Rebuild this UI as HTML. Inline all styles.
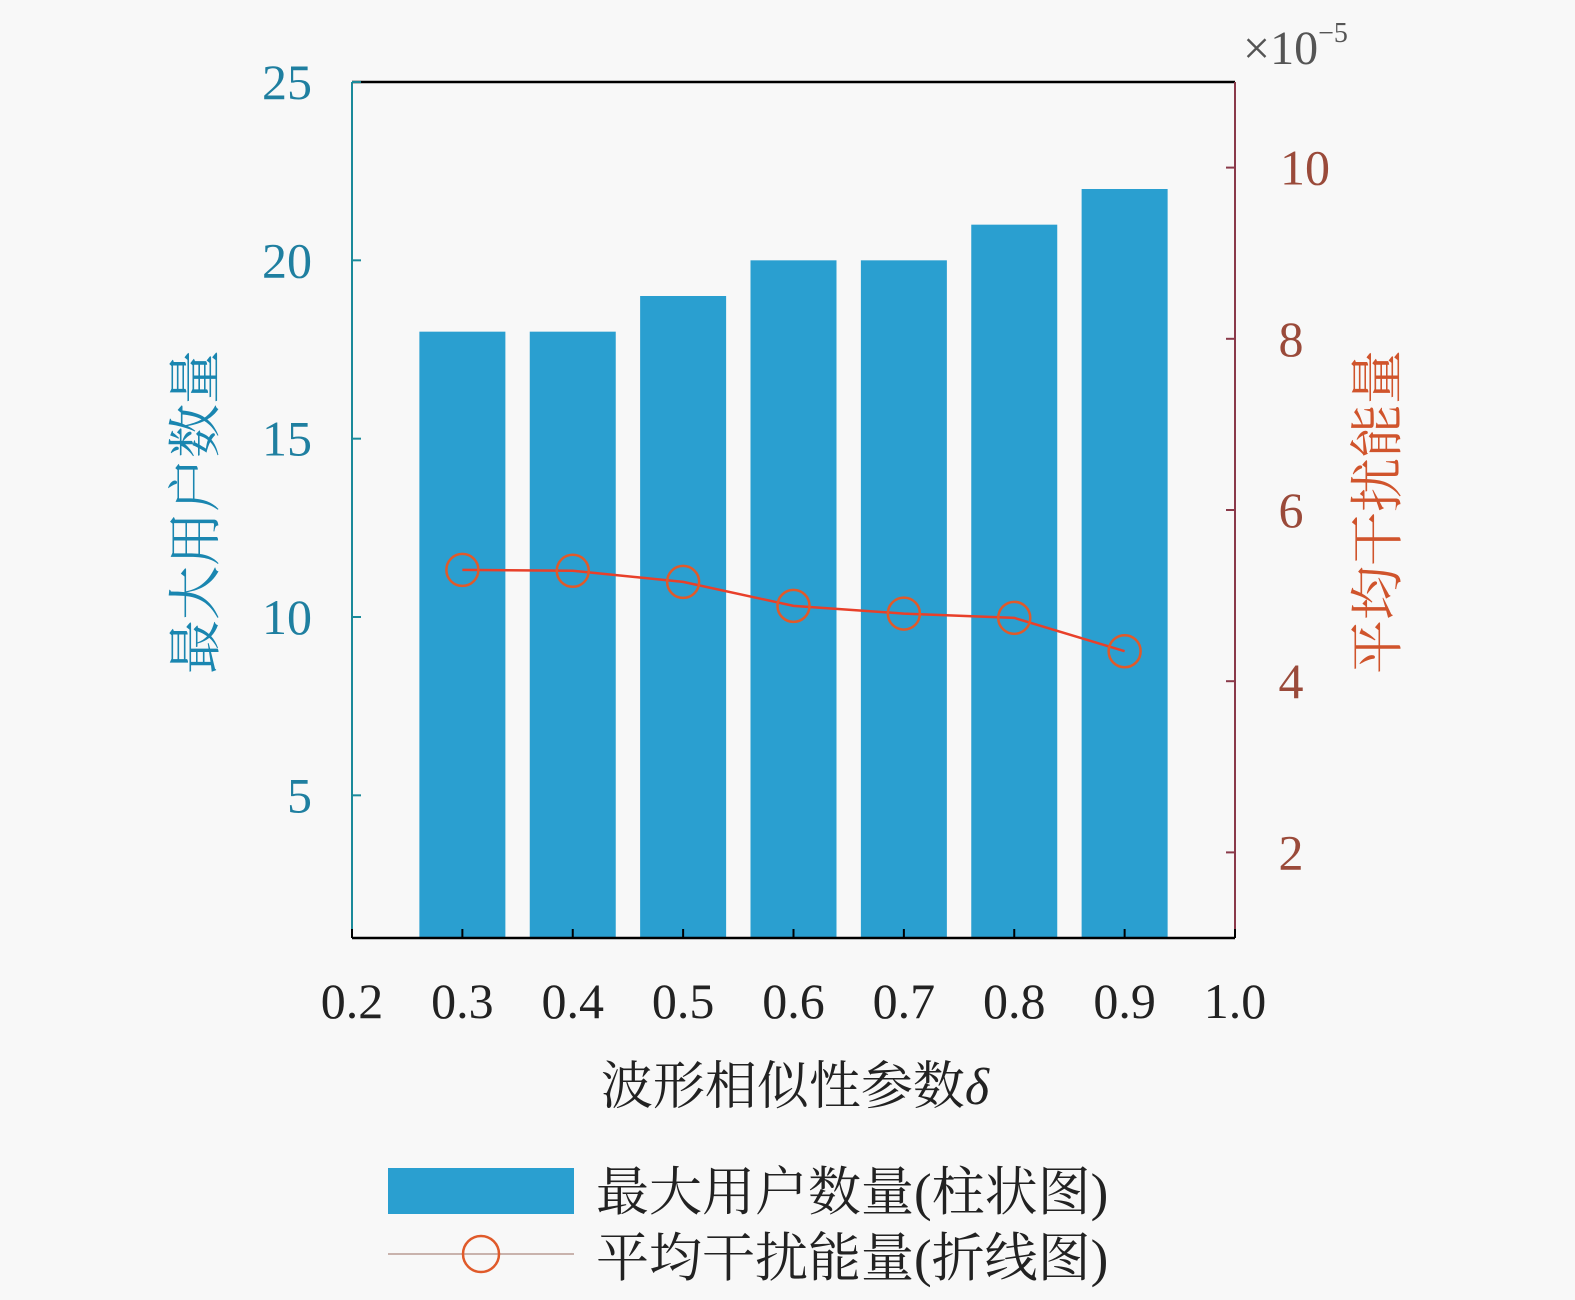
<!DOCTYPE html>
<html><head><meta charset="utf-8"><style>
html,body{margin:0;padding:0;background:#f8f8f8;}
svg text{font-family:"Liberation Serif","Noto Serif CJK SC",serif;}
</style></head><body>
<svg id="chart" width="1575" height="1295" xmlns="http://www.w3.org/2000/svg">
<rect width="1575" height="1295" fill="#f8f8f8"/>
<g id="bars"></g>
<g id="line"></g>
<g id="axes"></g>
<text x="795" y="1104" font-size="52" text-anchor="middle" fill="#222">波形相似性参数<tspan font-style="italic">δ</tspan></text>
<text transform="translate(214,512) rotate(-90)" font-size="54" text-anchor="middle" fill="#1a86b0" font-family="Noto Sans CJK SC, sans-serif">最大用户数量</text>
<text transform="translate(1396,512) rotate(-90)" font-size="54" text-anchor="middle" fill="#d0542c" font-family="Noto Sans CJK SC, sans-serif">平均干扰能量</text>
<text x="1243" y="64" font-size="48" fill="#555">×10<tspan font-size="28" dy="-22">−5</tspan></text>
<g>
<rect x="388" y="1168" width="186" height="46" fill="#2a9fd0"/>
<text x="596" y="1210" font-size="53" fill="#222">最大用户数量(柱状图)</text>
<line x1="388" y1="1254" x2="574" y2="1254" stroke="#c9b3ad" stroke-width="2"/>
<circle cx="481" cy="1254" r="18" fill="none" stroke="#e05a2a" stroke-width="2.5"/>
<text x="596" y="1276" font-size="53" fill="#222">平均干扰能量(折线图)</text>
</g>
</svg>
<script>
const categories=[0.3,0.4,0.5,0.6,0.7,0.8,0.9];
const users=[18,18,19,20,20,21,22];
const energy=[5.30,5.29,5.16,4.88,4.79,4.74,4.35];
const xTicks=[0.2,0.3,0.4,0.5,0.6,0.7,0.8,0.9,1.0];
const yLeftTicks=[5,10,15,20,25];
const yRightTicks=[2,4,6,8,10];
const NS="http://www.w3.org/2000/svg";
const X0=352,X1=1235,Y0=938,Y1=82;
const x=v=>X0+(v-0.2)/0.8*(X1-X0);
const yl=v=>Y0-(v-1)/24*(Y0-Y1);
const yr=v=>Y0-(v-1)/10*(Y0-Y1);
function mk(tag,attrs,parent){const e=document.createElementNS(NS,tag);for(const k in attrs)e.setAttribute(k,attrs[k]);parent.appendChild(e);return e;}
const bars=document.getElementById('bars'),line=document.getElementById('line'),axes=document.getElementById('axes');
categories.forEach((c,i)=>{
  const r=mk('rect',{x:x(c)-43,y:yl(users[i]),width:86,height:Y0-yl(users[i]),fill:'#2a9fd0'},bars);
  
  
});
const pts=categories.map((c,i)=>x(c)+','+yr(energy[i])).join(' ');
const pl=mk('polyline',{points:pts,fill:'none',stroke:'#e8402a','stroke-width':2.5},line);


categories.forEach((c,i)=>{
  const m=mk('circle',{cx:x(c),cy:yr(energy[i]),r:16,fill:'none',stroke:'#e05a2a','stroke-width':2.5},line);
  
  
});
let a=mk('line',{x1:X0,y1:Y1,x2:X1,y2:Y1,stroke:'#000','stroke-width':2.5},axes);


a=mk('line',{x1:X0,y1:Y0,x2:X1,y2:Y0,stroke:'#000','stroke-width':2.5},axes);


a=mk('line',{x1:X0,y1:Y1,x2:X0,y2:Y0,stroke:'#1a8a9a','stroke-width':2},axes);


a=mk('line',{x1:X1,y1:Y1,x2:X1,y2:Y0,stroke:'#8a3a4a','stroke-width':2},axes);


xTicks.forEach(t=>{
  mk('line',{x1:x(t),y1:Y0,x2:x(t),y2:Y0-9,stroke:'#000','stroke-width':2},axes);
  const l=mk('text',{x:x(t),y:1018,'font-size':50,'text-anchor':'middle',fill:'#222'},axes);
  l.textContent=t.toFixed(1);
  
  
});
yLeftTicks.forEach(t=>{
  mk('line',{x1:X0,y1:yl(t),x2:X0+9,y2:yl(t),stroke:'#1a8a9a','stroke-width':2},axes);
  const l=mk('text',{x:312,y:yl(t)+17,'font-size':50,'text-anchor':'end',fill:'#1f7fa0'},axes);
  l.textContent=t;
  
  
});
yRightTicks.forEach(t=>{
  mk('line',{x1:X1,y1:yr(t),x2:X1-9,y2:yr(t),stroke:'#8a3a4a','stroke-width':2},axes);
  const l=mk('text',{x:t>=10?1305:1291,y:yr(t)+17,'font-size':50,'text-anchor':'middle',fill:'#9a4a3a'},axes);
  l.textContent=t;
  
  
});
</script>
</body></html>
